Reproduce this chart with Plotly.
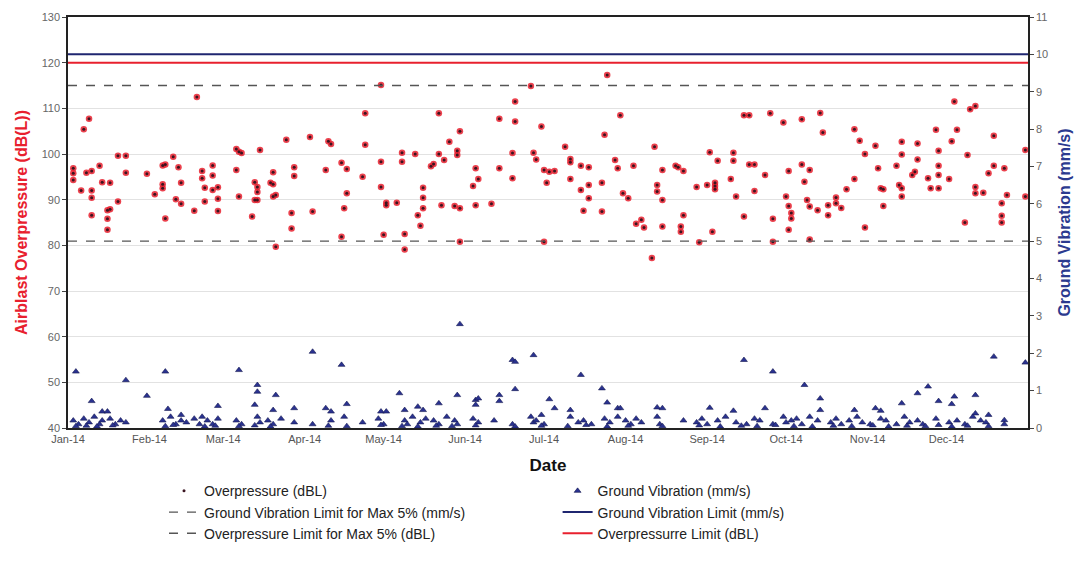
import pandas as pd
import plotly.graph_objects as go

# ---------------- data ----------------
START = "2014-01-01"
END = "2015-01-01"

# Overpressure readings: day offset from 1 Jan 2014, value in dB(L)
op_days = [49, 8, 6, 2, 2, 2, 7, 9, 5, 9, 9, 9, 12, 13, 16, 15, 16, 15, 15, 19, 22, 22, 19, 30, 33, 37, 36, 37, 36, 36,
           40, 42, 43, 41, 43, 48, 51, 51, 52, 52, 55, 55, 55, 57, 57, 57, 64, 65, 66, 64, 65, 73, 71, 72, 72, 71, 72, 70,
           78, 77, 78, 78, 79, 79, 83, 86, 86, 85, 85, 92,
           119, 176, 113, 141, 170, 164, 170, 180, 99, 100, 113, 149, 145, 104, 106, 98, 112, 119, 127, 127, 132, 138, 139,
           141, 143, 148, 148, 155, 156, 154, 164, 169, 169, 177, 178, 181, 182, 106, 105, 93, 104, 119, 121, 121, 125, 120,
           128, 128, 135, 135, 135, 133, 134, 142, 147, 149, 155, 161, 149, 181,
           205, 210, 204, 257, 259, 267, 272, 189, 223, 191, 191, 244, 253, 253, 247, 208, 209, 215, 183, 185, 195, 198, 231,
           232, 234, 226, 259, 261, 265, 274, 191, 198, 195, 198, 203, 224, 224, 226, 211, 213, 239, 243, 246, 246, 246, 252,
           254, 261, 196, 203, 216, 218, 219, 226, 234, 233, 233, 245, 257, 268, 273, 274, 274, 240, 268, 222,
           337, 343, 345, 286, 279, 287, 299, 301, 307, 303, 308, 299, 296, 309, 310, 310, 303, 317, 317, 315, 316, 317, 317,
           323, 323, 321, 322, 330, 331, 331, 331, 331, 327, 328, 335, 336, 338, 342, 341, 345, 345, 348, 350, 352, 352, 356,
           357, 355, 355, 355, 364, 364, 275, 275, 279, 280, 281, 282, 285, 282, 282, 289, 289, 292, 292, 294]
op_vals = [112.5, 107.7, 105.4, 96.9, 95.8, 94.3, 95.9, 96.3, 92.0, 92.0, 90.4, 86.6, 97.4, 93.8, 93.7, 87.7, 87.9, 85.8,
           83.4, 99.6, 99.6, 95.9, 89.6, 95.7, 91.2, 85.9, 97.5, 97.7, 93.4, 92.5,
           99.4, 97.1, 93.7, 90.1, 89.1, 87.6, 96.3, 94.7, 92.6, 89.6, 97.5, 95.3, 92.1, 92.7, 90.2, 87.5, 101.1, 100.5, 100.2,
           96.5, 90.7, 100.9, 93.8, 92.8, 91.7, 89.9, 89.9, 86.3, 96.0, 93.7, 93.4, 90.7, 91.0, 79.7, 103.1, 97.1, 95.2, 87.1,
           83.7, 103.7,
           115.1, 114.9, 108.9, 108.9, 111.5, 107.7, 107.1, 106.0, 102.8, 102.2, 102.0, 105.0, 102.7, 98.1, 96.7, 96.5, 95.0,
           98.3, 100.3, 98.3, 100.0, 97.3, 97.8, 100.0, 98.7, 100.7, 99.8, 96.9, 94.5, 93.0, 96.9, 100.2, 94.7, 100.3, 98.8,
           96.5, 93.7, 91.4, 88.1, 87.4, 81.9, 92.8, 89.3, 88.8, 89.3, 82.3, 82.5, 79.1, 92.6, 90.4, 88.1, 86.6, 84.3, 88.8,
           88.6, 88.1, 88.8, 89.1, 80.8, 80.8,
           117.3, 108.5, 104.2, 108.5, 108.5, 108.9, 106.9, 101.6, 101.6, 98.9, 98.2, 100.4, 100.3, 98.5, 98.5, 98.7, 96.9,
           97.4, 96.1, 96.3, 97.4, 97.1, 97.4, 97.1, 96.3, 96.5, 97.7, 97.7, 95.4, 96.3, 94.5, 93.2, 92.1, 90.3, 93.7, 93.2,
           91.8, 89.9, 91.4, 90.3, 92.8, 93.2, 93.7, 93.0, 92.3, 94.5, 90.7, 91.9, 87.6, 87.4, 84.7, 85.6, 83.9, 84.1, 86.6,
           84.1, 83.0, 83.0, 86.3, 85.8, 90.7, 88.6, 83.4, 80.7, 80.8, 77.2,
           111.5, 109.8, 110.5, 109.0, 107.6, 104.7, 105.4, 102.9, 101.8, 100.0, 96.9, 94.5, 92.3, 92.5, 92.3, 88.6, 83.9,
           102.7, 99.9, 97.4, 93.2, 92.5, 90.7, 102.3, 98.8, 95.4, 96.1, 105.3, 100.7, 97.4, 95.4, 92.5, 94.7, 92.5, 94.5,
           102.8, 105.3, 99.8, 85.0, 92.8, 91.4, 91.5, 95.8, 97.4, 104.0, 96.9, 91.0, 89.2, 86.5, 85.0, 100.9, 90.7, 87.1,
           85.9, 97.7, 93.9, 89.9, 88.5, 87.7, 96.5, 81.3, 88.8, 86.6, 90.5, 89.2, 88.2]

# Ground vibration readings: day offset, value in mm/s
gv_days = [3, 9, 13, 15, 22, 30, 37, 38, 43, 57, 65, 71, 72, 72, 79, 78, 86, 93, 98, 100, 104, 106, 126, 128, 133, 135,
           141, 148, 155, 156, 155, 164, 164, 169, 170, 170, 177, 119, 121, 149,
           183, 185, 180, 195, 191, 203, 205, 209, 210, 224, 226, 244, 253, 257, 265, 268, 280, 286, 286, 299, 307, 309,
           317, 323, 327, 331, 337, 336, 345, 345, 350, 352, 356, 364,
           2, 4, 6, 8, 10, 12, 13, 16, 18, 20, 22, 36, 39, 41, 43, 45, 48, 50, 51, 53, 55, 57, 64, 66, 72, 73, 76, 78, 81,
           86, 93, 100, 105, 112, 118, 120, 128, 129, 131, 134, 136, 139, 141, 144, 147, 148, 154, 156, 162, 169, 176, 177,
           178, 181, 191, 194, 196, 199, 204, 206, 209, 212, 214, 216, 218, 224, 225, 234, 239, 241, 243, 247, 250, 254,
           258, 261, 263, 268, 272, 273, 275, 277, 279, 282, 285, 290, 292, 294, 297, 300, 302, 305, 309, 311, 315, 318,
           320, 323, 325, 330, 335, 338, 341, 344, 347, 349, 356,
           3, 7, 11, 17, 37, 40, 52, 56, 65, 71, 77, 99, 106, 119, 127, 133, 140, 146, 155, 170, 180, 190, 197, 205, 213,
           226, 240, 248, 256, 262, 269, 276, 283, 291, 298, 306, 312, 319, 326, 331, 336, 342, 350]
gv_vals = [1.51, 0.72, 0.44, 0.44, 1.28, 0.86, 1.51, 0.51, 0.35, 0.59, 1.55, 0.62, 1.15, 0.97, 0.88, 0.48, 0.53, 2.04,
           0.53, 0.44, 1.69, 0.64, 0.93, 0.48, 0.57, 0.48, 0.66, 0.88, 0.75, 0.79, 0.62, 0.88, 0.72, 1.82, 1.77, 1.04, 1.95,
           0.44, 0.44, 2.78,
           0.77, 0.53, 0.35, 1.42, 0.48, 1.06, 0.68, 0.53, 0.53, 0.55, 0.53, 0.54, 0.46, 1.82, 0.53, 1.51, 1.15, 0.79, 0.48,
           0.48, 0.53, 0.46, 0.66, 0.93, 1.11, 0.72, 0.84, 0.64, 0.88, 0.39, 0.35, 1.91, 0.21, 1.75,
           0.2, 0.1, 0.25, 0.15, 0.3, 0.1, 0.2, 0.25, 0.1, 0.2, 0.15, 0.2, 0.3, 0.1, 0.2, 0.15, 0.25, 0.1, 0.3, 0.2, 0.1,
           0.25, 0.2, 0.1, 0.3, 0.15, 0.2, 0.1, 0.25, 0.15, 0.1, 0.2, 0.3, 0.15, 0.25, 0.1, 0.2, 0.1, 0.3, 0.15, 0.25, 0.2,
           0.1, 0.3, 0.2, 0.1, 0.25, 0.15, 0.2, 0.1, 0.3, 0.15,
           0.2, 0.1, 0.3, 0.15, 0.2, 0.1, 0.25, 0.15, 0.3, 0.2, 0.1, 0.25, 0.15, 0.3, 0.1, 0.2, 0.15, 0.25, 0.1, 0.2, 0.3,
           0.15, 0.1, 0.25, 0.2, 0.1, 0.3, 0.15, 0.2, 0.25, 0.1, 0.3, 0.2, 0.15, 0.25, 0.1, 0.2, 0.3, 0.15, 0.1, 0.25, 0.2,
           0.1, 0.3, 0.15, 0.2, 0.1, 0.25, 0.15, 0.2, 0.1, 0.3, 0.2, 0.15, 0.1,
           0.05, 0.06, 0.04, 0.07, 0.05, 0.08, 0.04, 0.06, 0.05, 0.07, 0.04, 0.06, 0.05, 0.08, 0.05, 0.04, 0.06, 0.05, 0.07,
           0.04, 0.06, 0.05, 0.08, 0.04, 0.06, 0.05, 0.07, 0.04, 0.06, 0.05, 0.08, 0.05, 0.04, 0.06, 0.05, 0.07, 0.04, 0.06,
           0.05, 0.08, 0.04, 0.06, 0.05]

# Limits
OP_LIMIT = 120          # dB(L)
OP_LIMIT_5PCT = 115     # dB(L)
GV_LIMIT = 10           # mm/s
GV_LIMIT_5PCT = 5       # mm/s

month_ticks = pd.date_range(START, "2014-12-01", freq="MS")

# ---------------- figure ----------------
base = pd.Timestamp(START)
op_x = [base + pd.Timedelta(days=d) for d in op_days]
gv_x = [base + pd.Timedelta(days=d) for d in gv_days]
span_x = [pd.Timestamp(START), pd.Timestamp(END)]

RED = "#e8202e"
NAVY = "#1f2670"
FONT = "Arial, Liberation Sans, sans-serif"

fig = go.Figure()

# red halo behind overpressure dots
fig.add_trace(go.Scatter(x=op_x, y=op_vals, mode="markers", showlegend=False, hoverinfo="skip",
                         marker=dict(symbol="circle", size=6.5, color=RED, opacity=0.85)))
fig.add_trace(go.Scatter(x=op_x, y=op_vals, mode="markers", name="Overpressure (dBL)", legend="legend",
                         marker=dict(symbol="circle", size=3, color="#3a1420")))
fig.add_trace(go.Scatter(x=span_x, y=[GV_LIMIT_5PCT] * 2, yaxis="y2", mode="lines", legend="legend",
                         name="Ground Vibration Limit for Max 5% (mm/s)",
                         line=dict(color="#555555", width=1.3, dash="dash")))
fig.add_trace(go.Scatter(x=span_x, y=[OP_LIMIT_5PCT] * 2, mode="lines", legend="legend",
                         name="Overpressure Limit for Max 5% (dBL)",
                         line=dict(color="#555555", width=1.3, dash="dash")))

fig.add_trace(go.Scatter(x=gv_x, y=gv_vals, yaxis="y2", mode="markers", name="Ground Vibration (mm/s)",
                         legend="legend2",
                         marker=dict(symbol="triangle-up", size=6, color="#2a3290",
                                     line=dict(color="#151a50", width=0.6))))
fig.add_trace(go.Scatter(x=span_x, y=[GV_LIMIT] * 2, yaxis="y2", mode="lines", legend="legend2",
                         name="Ground Vibration Limit (mm/s)", line=dict(color=NAVY, width=2)))
fig.add_trace(go.Scatter(x=span_x, y=[OP_LIMIT] * 2, mode="lines", legend="legend2",
                         name="Overpressurre Limit (dBL)", line=dict(color=RED, width=2)))

legend_common = dict(orientation="v", xanchor="left", yanchor="top", y=-0.115,
                     font=dict(family=FONT, size=14, color="#222222"),
                     bgcolor="rgba(0,0,0,0)", tracegroupgap=0, itemwidth=30)

fig.update_layout(
    width=1080, height=572,
    margin=dict(l=68, r=52, t=17, b=144),
    paper_bgcolor="white", plot_bgcolor="white",
    font=dict(family=FONT, color="#555555"),
    xaxis=dict(
        range=span_x, tickvals=month_ticks, tickformat="%b-%y", automargin=False,
        tickfont=dict(size=11, color="#555555"),
        showgrid=False, showline=True, linecolor="#222222", linewidth=1.5, mirror=True,
        ticks="", title=dict(text="<b>Date</b>", font=dict(size=17, color="#111111"), standoff=15),
    ),
    yaxis=dict(
        range=[40, 130], dtick=10, tick0=40, automargin=False,
        tickfont=dict(size=11, color="#666666"),
        showgrid=True, gridcolor="#e2e2e2", gridwidth=1,
        showline=True, linecolor="#222222", linewidth=1.5, mirror=True,
        ticks="outside", ticklen=4, tickcolor="#444444", zeroline=False,
        title=dict(text="<b>Airblast Overpressure (dB(L))</b>", font=dict(size=16, color=RED), standoff=10),
    ),
    yaxis2=dict(
        range=[0, 11], dtick=1, tick0=0, overlaying="y", side="right", automargin=False,
        tickfont=dict(size=11, color="#666666"),
        showgrid=False, showline=True, linecolor="#222222", linewidth=1.5,
        ticks="outside", ticklen=4, tickcolor="#444444", zeroline=False,
        title=dict(text="<b>Ground Vibration (mm/s)</b>", font=dict(size=16, color="#2b3a8f"), standoff=12),
    ),
    legend=dict(x=0.10, **legend_common),
    legend2=dict(x=0.51, **legend_common),
    showlegend=True,
)

fig.write_html("out.html", config={"displayModeBar": False},
               post_script="document.body.style.margin='0px';")
